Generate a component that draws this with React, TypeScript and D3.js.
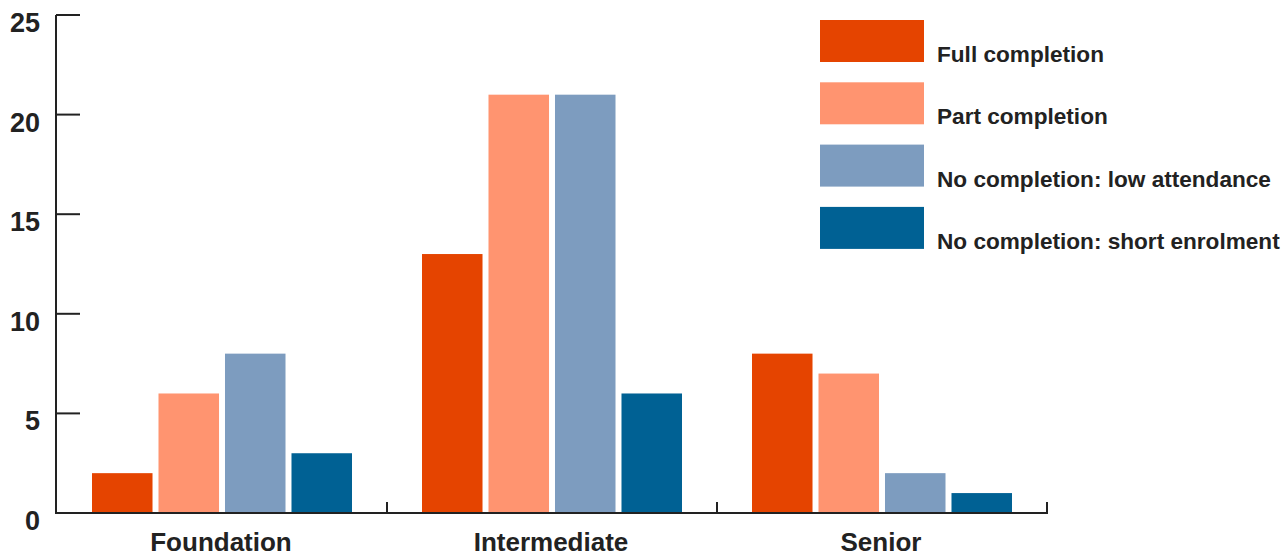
import React from "react";
import * as d3 from "d3";

const categories = ["Foundation", "Intermediate", "Senior"];
const seriesNames = [
  "Full completion",
  "Part completion",
  "No completion: low attendance",
  "No completion: short enrolment",
];
const fullCompletion = [2, 13, 8];
const partCompletion = [6, 21, 7];
const lowAttendance = [8, 21, 2];
const shortEnrolment = [3, 6, 1];
const yTicks = [0, 5, 10, 15, 20, 25];
const colors = ["#E54400", "#FF9470", "#7D9CBF", "#006194"];

const seriesValues = [fullCompletion, partCompletion, lowAttendance, shortEnrolment];

export default function App() {
  const width = 1288;
  const height = 558;
  const x0 = 56;
  const x1 = 1046;
  const yBottom = 513;
  const yTop = 15;
  const font = "'Liberation Sans', Arial, Helvetica, sans-serif";
  const ink = "#222";

  const x = d3.scaleBand<string>().domain(categories).range([x0, x1]).padding(0);
  const xi = d3
    .scaleBand<string>()
    .domain(seriesNames)
    .range([36, x.bandwidth() - 34])
    .paddingInner(0.09)
    .paddingOuter(0);
  const y = d3.scaleLinear().domain([0, 25]).range([yBottom, yTop]);

  return (
    <svg width={width} height={height} style={{ position: "absolute", left: 0, top: 0 }}>
      <rect width={width} height={height} fill="#fff" />
      {categories.map((c, ci) => (
        <g key={c} transform={`translate(${x(c)},0)`}>
          {seriesNames.map((s, si) => {
            const v = seriesValues[si][ci];
            return (
              <rect
                key={s}
                x={xi(s)}
                y={y(v)}
                width={xi.bandwidth()}
                height={y(0) - y(v)}
                fill={colors[si]}
              />
            );
          })}
        </g>
      ))}
      {/* y axis */}
      <line x1={x0} x2={x0} y1={yTop} y2={yBottom + 1} stroke={ink} strokeWidth={2} />
      {yTicks.map((t) => (
        <g key={t}>
          <line x1={x0} x2={80} y1={y(t)} y2={y(t)} stroke={ink} strokeWidth={2} />
          <text
            x={40}
            y={y(t) + 8}
            textAnchor="end"
            dominantBaseline="central"
            fontFamily={font}
            fontWeight="bold"
            fontSize={27}
            fill={ink}
          >
            {t}
          </text>
        </g>
      ))}
      {/* x axis */}
      <line x1={x0 - 1} x2={x1 + 2} y1={yBottom} y2={yBottom} stroke={ink} strokeWidth={2} />
      {categories.map((c) => (
        <g key={c}>
          <line
            x1={(x(c) as number) + x.bandwidth() + 1}
            x2={(x(c) as number) + x.bandwidth() + 1}
            y1={yBottom}
            y2={yBottom - 11}
            stroke={ink}
            strokeWidth={2}
          />
          <text
            x={(x(c) as number) + x.bandwidth() / 2}
            y={551}
            textAnchor="middle"
            fontFamily={font}
            fontWeight="bold"
            fontSize={26}
            fill={ink}
          >
            {c}
          </text>
        </g>
      ))}
      {/* legend */}
      {seriesNames.map((s, i) => (
        <g key={s} transform={`translate(820,${20 + i * 62.3})`}>
          <rect width={104} height={42} fill={colors[i]} />
          <text x={117} y={42} fontFamily={font} fontWeight="bold" fontSize={22.6} fill={ink}>
            {s}
          </text>
        </g>
      ))}
    </svg>
  );
}
